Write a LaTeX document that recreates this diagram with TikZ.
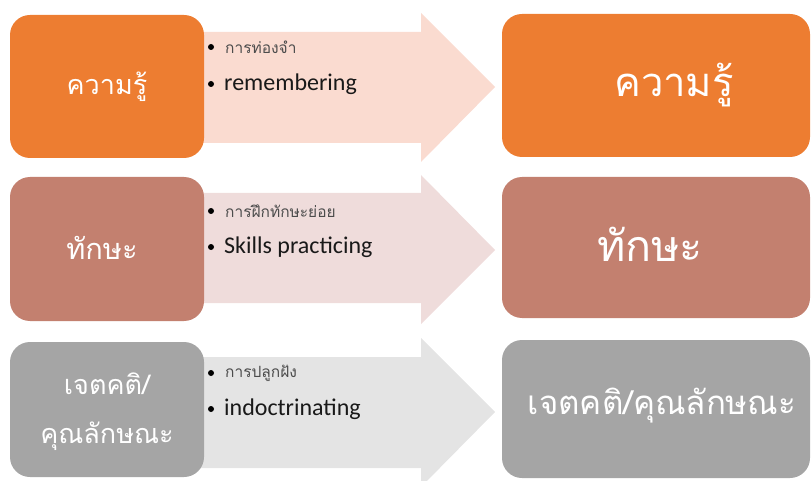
\documentclass[tikz,border=0pt]{standalone}
\usepackage{fontspec}
\setmainfont{Carlito}
\newfontfamily\thai[Script=Thai]{Loma}
\definecolor{orangeA}{HTML}{ED7D31}
\definecolor{orangeL}{HTML}{FADBD0}
\definecolor{roseA}{HTML}{C3806F}
\definecolor{roseL}{HTML}{EFDCDB}
\definecolor{greyA}{HTML}{A5A5A5}
\definecolor{greyL}{HTML}{E4E4E4}
\tikzset{
  box/.style={rounded corners=20pt, inner sep=0pt, text=white, align=center},
  bigtext/.style={font=\thai\fontsize{27}{32}\selectfont},
  hugetext/.style={font=\thai\fontsize{40}{46}\selectfont},
  label/.style={text=white, inner sep=0pt},
  thaibullet/.style={anchor=west, inner sep=0pt, text=black!70, font=\thai\fontsize{15.5}{18}\selectfont},
  engbullet/.style={anchor=west, inner sep=0pt, text=black!90, font=\fontsize{24}{28}\selectfont},
  dot/.style={circle, fill=black, inner sep=0pt, minimum size=6pt}
}
\begin{document}
\begin{tikzpicture}[x=1pt,y=-1pt]
\useasboundingbox (0,0) rectangle (811,481);
% arrows
\fill[orangeL] (150,32) -- (421,32) -- (421,13) -- (495,87) -- (421,162) -- (421,143) -- (150,143) -- cycle;
\fill[roseL] (150,193) -- (421,193) -- (421,175) -- (495,250) -- (421,324) -- (421,303) -- (150,303) -- cycle;
\fill[greyL] (150,357) -- (421,357) -- (421,338) -- (495,412) -- (421,487) -- (421,468) -- (150,468) -- cycle;
% left boxes
\node[box, fill=orangeA, minimum width=194pt, minimum height=143pt] (l1) at (107,86.5) {};
\node[label, bigtext] (l1t) at (107,87) {ความรู้};
\node[box, fill=roseA, minimum width=194pt, minimum height=144pt] (l2) at (107,249) {};
\node[label, font=\thai\fontsize{29}{34}\selectfont] (l2t) at (102,248) {ทักษะ};
\node[box, fill=greyA, minimum width=194pt, minimum height=135pt] (l3) at (107,409.5) {};
\node[label, bigtext] (l3a) at (107,384) {เจตคติ/};
\node[label, bigtext] (l3b) at (107,436) {คุณลักษณะ};
% right boxes
\node[box, fill=orangeA, minimum width=308pt, minimum height=143pt] (r1) at (656,85.5) {};
\node[label, hugetext] (r1t) at (674,85) {ความรู้};
\node[box, fill=roseA, minimum width=308pt, minimum height=141pt] (r2) at (656,247.5) {};
\node[label, font=\thai\fontsize{43}{48}\selectfont] (r2t) at (650,244) {ทักษะ};
\node[box, fill=greyA, minimum width=308pt, minimum height=138pt] (r3) at (656,409) {};
\node[label, font=\thai\fontsize{33}{38}\selectfont] (r3t) at (662,406) {เจตคติ/คุณลักษณะ};
% bullets row 1
\node[dot] (b1a) at (211,47) {};
\node[thaibullet] (t1a) at (225,47) {การท่องจำ};
\node[dot] (b1b) at (211,84) {};
\node[engbullet] (t1b) at (224,84) {remembering};
% bullets row 2
\node[dot] (b2a) at (211,211) {};
\node[thaibullet] (t2a) at (225,211) {การฝึกทักษะย่อย};
\node[dot] (b2b) at (211,247) {};
\node[engbullet] (t2b) at (224,247) {Skills practicing};
% bullets row 3
\node[dot] (b3a) at (211,373) {};
\node[thaibullet] (t3a) at (225,373) {การปลูกฝัง};
\node[dot] (b3b) at (211,409) {};
\node[engbullet] (t3b) at (224,409) {indoctrinating};
\end{tikzpicture}
\end{document}
